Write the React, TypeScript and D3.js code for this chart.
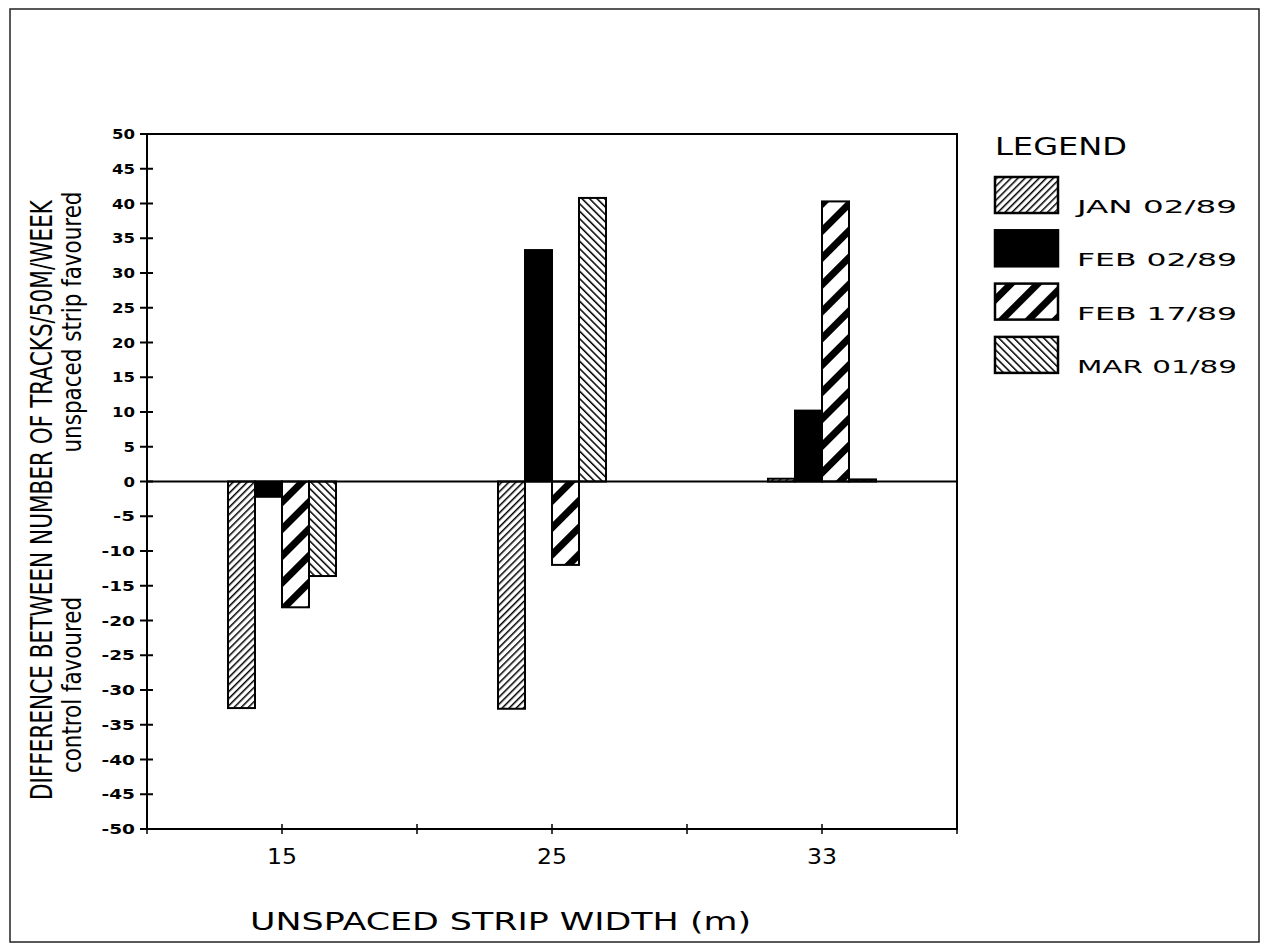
import React from 'react';
import * as d3 from 'd3';

// values
const widths = ['15', '25', '33'];
const seriesNames = ['JAN 02/89', 'FEB 02/89', 'FEB 17/89', 'MAR 01/89'];
const jan02 = [-32.6, -32.7, 0.4];
const feb02 = [-2.2, 33.3, 10.2];
const feb17 = [-18.1, -12.0, 40.3];
const mar01 = [-13.6, 40.8, 0.3];
const yTicks = d3.range(-50, 51, 5);

const seriesValues = [jan02, feb02, feb17, mar01];
const fills = ['url(#janPat)', '#000', 'url(#feb17Pat)', 'url(#marPat)'];

const W = 1261;
const H = 944;

// rough width of a plotter style tick label
const labelLen = (t: number) => {
  const s = String(t);
  return s.replace('-', '').length * 11.5 + (t < 0 ? 10.5 : 0);
};

const App = () => {
  const x = d3.scaleBand().domain(widths).range([147, 957]);
  const inner = d3.scaleBand().domain(seriesNames).range([-54, 54]);
  const y = d3.scaleLinear().domain([-50, 50]).range([829, 134]);
  const bw = x.bandwidth();

  // tick marks at every band edge and band centre
  const xTickPos: number[] = [];
  widths.forEach(c => {
    xTickPos.push(x(c) as number, (x(c) as number) + bw / 2);
  });
  xTickPos.push(x.range()[1]);

  const [x0, x1] = x.range();
  const [yBot, yTop] = y.range();

  const bars = widths.flatMap((c, i) =>
    seriesNames.map((s, j) => {
      const v = seriesValues[j][i];
      return {
        key: `${c}-${s}`,
        x: (x(c) as number) + bw / 2 + (inner(s) as number),
        y: Math.min(y(v), y(0)),
        h: Math.abs(y(v) - y(0)),
        fill: fills[j],
      };
    })
  );

  const condensed = '"Liberation Sans Narrow", "DejaVu Sans Condensed", "Roboto Condensed", sans-serif';
  const plain = '"DejaVu Sans", Verdana, sans-serif';

  return (
    <svg width={W} height={H} style={{ position: 'absolute', left: 0, top: 0, background: '#fff' }}>
      <defs>
        <pattern id="janPat" width="5" height="5" patternUnits="userSpaceOnUse" patternTransform="rotate(45)">
          <rect width="5" height="5" fill="#fff" />
          <rect width="1.5" height="5" fill="#000" />
        </pattern>
        <pattern id="feb17Pat" width="19" height="19" patternUnits="userSpaceOnUse" patternTransform="rotate(45)">
          <rect width="19" height="19" fill="#fff" />
          <rect width="7" height="19" fill="#000" />
        </pattern>
        <pattern id="marPat" width="5.3" height="5.3" patternUnits="userSpaceOnUse" patternTransform="rotate(-45)">
          <rect width="5.3" height="5.3" fill="#fff" />
          <rect width="1.5" height="5.3" fill="#000" />
        </pattern>
      </defs>

      {/* outer frame */}
      <rect x={10} y={9} width={1249} height={933} fill="none" stroke="#222" strokeWidth={1.5} />

      {/* bars */}
      {bars.map(b => (
        <rect key={b.key} x={b.x} y={b.y} width={inner.bandwidth()} height={b.h}
          fill={b.fill} stroke="#000" strokeWidth={2} />
      ))}

      {/* plot box and zero line */}
      <rect x={x0} y={yTop} width={x1 - x0} height={yBot - yTop} fill="none" stroke="#000" strokeWidth={2} />
      <line x1={x0} x2={x1} y1={y(0)} y2={y(0)} stroke="#000" strokeWidth={2} />

      {/* y axis ticks */}
      {yTicks.map(t => (
        <g key={t}>
          <line x1={x0 - 7} x2={x0 + 6} y1={y(t)} y2={y(t)} stroke="#000" strokeWidth={2} />
          <text x={135} y={y(t)} dy="0.36em" textAnchor="end" fontFamily={plain} fontWeight="bold"
            fontSize={14} textLength={labelLen(t)} lengthAdjust="spacingAndGlyphs">{t}</text>
        </g>
      ))}

      {/* x axis ticks */}
      {xTickPos.map((p, i) => (
        <line key={i} x1={p} x2={p} y1={yBot - 5} y2={yBot + 5} stroke="#000" strokeWidth={1.5} />
      ))}
      {widths.map(c => (
        <text key={c} x={(x(c) as number) + bw / 2} y={864} textAnchor="middle" fontFamily={plain}
          fontSize={21} textLength={30} lengthAdjust="spacingAndGlyphs">{c}</text>
      ))}

      {/* axis titles */}
      <text x={250} y={930} fontFamily={plain} fontSize={25} textLength={501} lengthAdjust="spacingAndGlyphs">
        UNSPACED STRIP WIDTH (m)
      </text>
      <text transform="translate(52,500) rotate(-90)" textAnchor="middle" fontFamily={condensed}
        fontSize={31} textLength={600} lengthAdjust="spacingAndGlyphs">
        DIFFERENCE BETWEEN NUMBER OF TRACKS/50M/WEEK
      </text>
      <text transform="translate(81,322) rotate(-90)" textAnchor="middle" fontFamily={condensed}
        fontSize={27} textLength={261} lengthAdjust="spacingAndGlyphs">
        unspaced strip favoured
      </text>
      <text transform="translate(81,685) rotate(-90)" textAnchor="middle" fontFamily={condensed}
        fontSize={27} textLength={176} lengthAdjust="spacingAndGlyphs">
        control favoured
      </text>

      {/* legend */}
      <text x={995} y={155} fontFamily={plain} fontSize={25} textLength={132}
        lengthAdjust="spacingAndGlyphs">LEGEND</text>
      {seriesNames.map((s, j) => {
        const top = 177 + j * 53.3;
        return (
          <g key={s}>
            <rect x={995} y={top} width={63} height={36} fill={fills[j]} stroke="#000" strokeWidth={2.5} />
            <text x={1077} y={top + 36} fontFamily={plain} fontSize={18} textLength={160}
              lengthAdjust="spacingAndGlyphs">{s}</text>
          </g>
        );
      })}
    </svg>
  );
};

export default App;
